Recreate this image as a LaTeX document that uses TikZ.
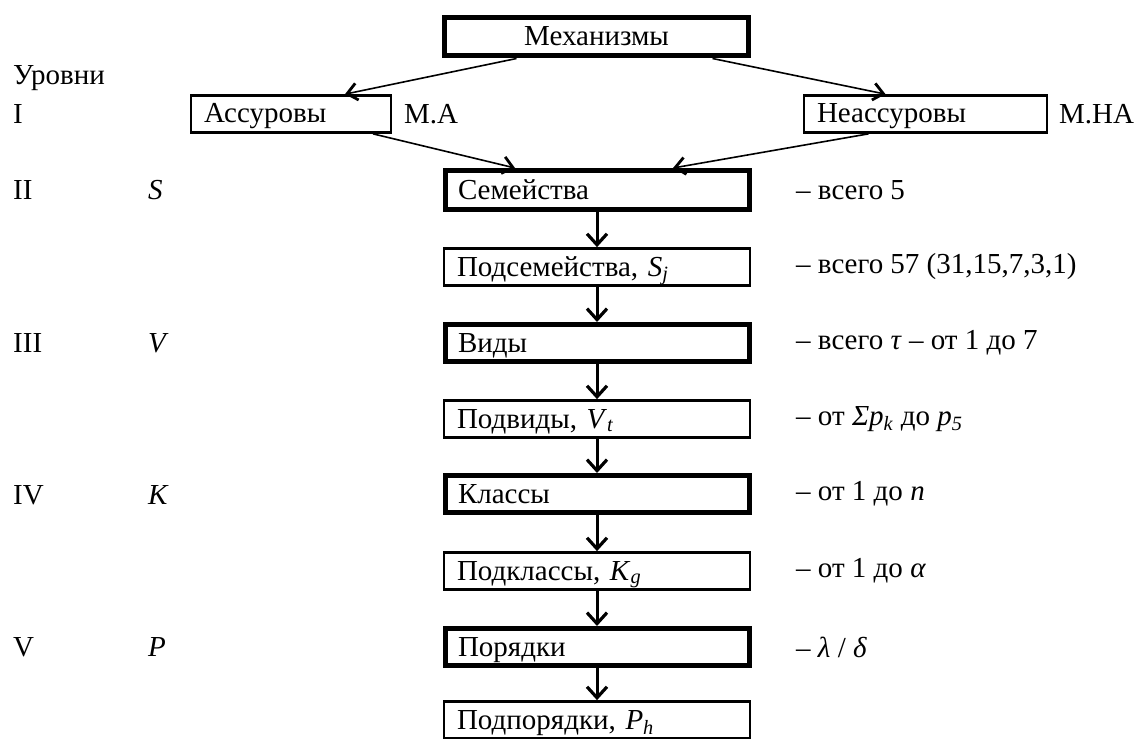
\documentclass[tikz,border=0pt]{standalone}
\usepackage{fontspec}
\setmainfont{Liberation Serif}
\usetikzlibrary{arrows.meta,calc}
\tikzset{
  box/.style={draw, line width=2.7pt, minimum height=37pt, inner xsep=13pt, inner ysep=0pt, align=left, text height=20pt, text depth=2pt, font=\fontsize{29}{33}\selectfont, anchor=center},
  thickbox/.style={box, line width=5pt},
  lbl/.style={anchor=west, inner sep=0pt, font=\fontsize{29}{33}\selectfont},
  diag/.style={line width=1.6pt, -{Straight Barb[length=10pt,width=17pt,line width=2.8pt]}},
  vert/.style={line width=3pt, -{Straight Barb[length=11pt,width=20pt,line width=3.2pt]}}
}
\begin{document}
\begin{tikzpicture}[x=1pt,y=-1pt]
\clip (0,0) rectangle (1139,738);
\fill[white] (0,0) rectangle (1139,738);
% top
\node[thickbox, minimum width=304pt, minimum height=38pt, text width=278pt, align=center] (mech) at (596.5,37) {Механизмы};
\node[box, minimum width=200pt, text width=174pt] (ass) at (291,114) {Ассуровы};
\node[box, minimum width=243pt, text width=217pt] (neass) at (925.5,114) {Неассуровы};
% column
\node[thickbox, minimum width=304pt, minimum height=39pt, text width=278pt] (sem) at (597,190) {Семейства};
\node[box, minimum width=306pt, text width=280pt] (podsem) at (597,267) {Подсемейства, \textit{S}\textsubscript{\textit{j}}};
\node[thickbox, minimum width=304pt, text width=278pt] (vid) at (597,343) {Виды};
\node[box, minimum width=306pt, text width=280pt] (podvid) at (597,419) {Подвиды, \textit{V}\textsubscript{\textit{t}}};
\node[thickbox, minimum width=304pt, text width=278pt] (kl) at (597,494) {Классы};
\node[box, minimum width=306pt, text width=280pt] (podkl) at (597,571) {Подклассы, \textit{K}\textsubscript{\textit{g}}};
\node[thickbox, minimum width=304pt, text width=278pt] (por) at (597,647) {Порядки};
\node[box, minimum width=306pt, text width=280pt] (podpor) at (597,720) {Подпорядки, \textit{P}\textsubscript{\textit{h}}};
% left labels
\node[lbl] (urov) at (13,78) {Уровни};
\node[lbl] (l1) at (13,114) {I};
\node[lbl] (l2) at (13,190) {II};
\node[lbl] (l3) at (13,343) {III};
\node[lbl] (l4) at (13,495) {IV};
\node[lbl] (l5) at (13,647) {V};
\node[lbl] (sS) at (148,190) {\textit{S}};
\node[lbl] (sV) at (148,343) {\textit{V}};
\node[lbl] (sK) at (148,495) {\textit{K}};
\node[lbl] (sP) at (148,647) {\textit{P}};
% side labels
\node[lbl] (ma) at (404,114) {М.А};
\node[lbl] (mna) at (1059,114) {М.НА};
\node[lbl] (r1) at (796,190) {– всего 5};
\node[lbl] (r2) at (796,267) {– всего 57 (31,15,7,3,1)};
\node[lbl] (r3) at (796,343) {– всего \textit{τ} – от 1 до 7};
\node[lbl] (r4) at (796,419) {– от \textit{Σp}\textsubscript{\textit{k}} до \textit{p}\textsubscript{\textit{5}}};
\node[lbl] (r5) at (796,494) {– от 1 до \textit{n}};
\node[lbl] (r6) at (796,571) {– от 1 до \textit{α}};
\node[lbl] (r7) at (796,647) {– \textit{λ} / \textit{δ}};
% connectors
\draw[diag] ([xshift=-80pt]mech.south) -- ([xshift=54pt]ass.north);
\draw[diag] ([xshift=116pt]mech.south) -- ([xshift=-40pt]neass.north);
\draw[diag] ([xshift=82pt]ass.south) -- ([xshift=-82pt]sem.north);
\draw[diag] ([xshift=-57pt]neass.south) -- ([xshift=76pt]sem.north);
\draw[vert] (sem) -- (podsem);
\draw[vert] (podsem) -- (vid);
\draw[vert] (vid) -- (podvid);
\draw[vert] (podvid) -- (kl);
\draw[vert] (kl) -- (podkl);
\draw[vert] (podkl) -- (por);
\draw[vert] (por) -- (podpor);
\end{tikzpicture}
\end{document}
